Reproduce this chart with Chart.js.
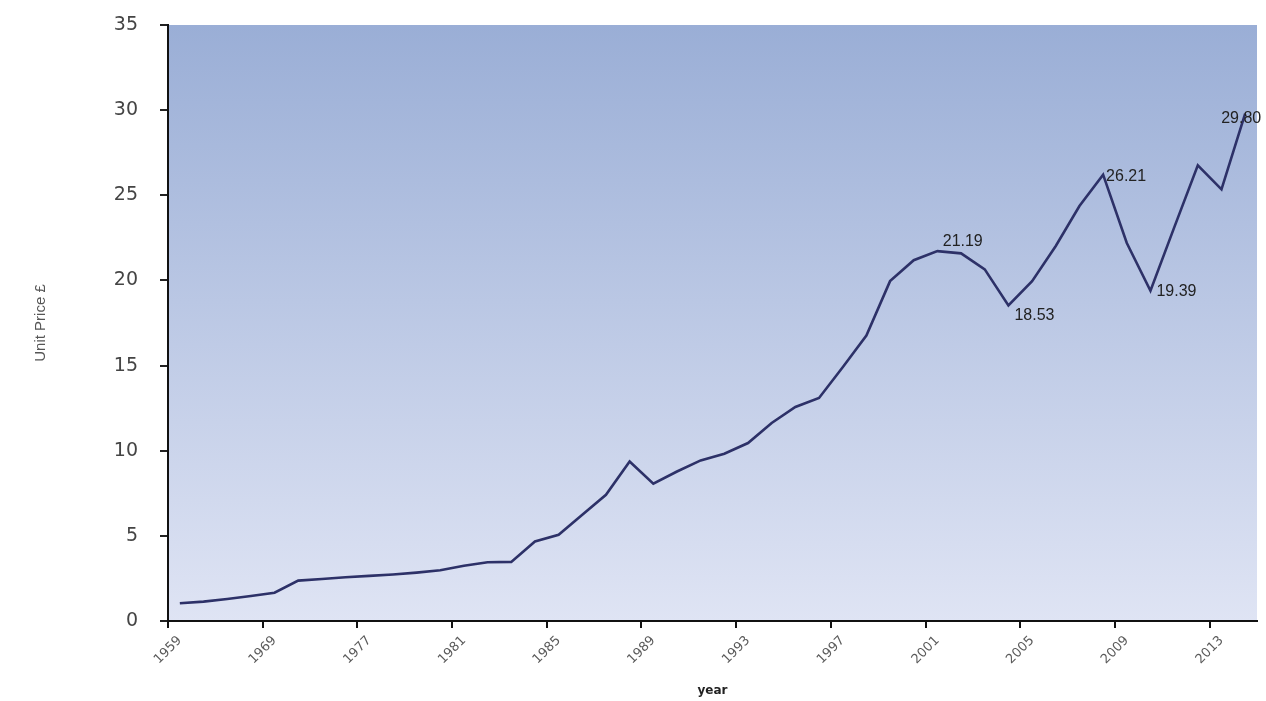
<!DOCTYPE html>
<html>
<head>
<meta charset="utf-8">
<script src="https://cdn.jsdelivr.net/npm/chart.js@4.4.1/dist/chart.umd.min.js"></script>
<style>
  html, body { margin: 0; padding: 0; background: #fff; }
  #wrap { width: 1266px; height: 701px; }
</style>
</head>
<body>
<div id="wrap"><canvas id="priceChart" width="1266" height="701"></canvas></div>
<script>
// years on the category axis (only every 4th one is labelled)
const years = ['1959', '1962', '1965', '1967', '1969', '1971', '1973', '1975',
  '1977', '1978', '1979', '1980', '1981', '1982', '1983', '1984', '1985', '1986',
  '1987', '1988', '1989', '1990', '1991', '1992', '1993', '1994', '1995', '1996',
  '1997', '1998', '1999', '2000', '2001', '2002', '2003', '2004', '2005', '2006',
  '2007', '2008', '2009', '2010', '2011', '2012', '2013', '2014'];

// unit price in pounds
const unitPrice = [1.04, 1.14, 1.29, 1.47, 1.66, 2.37, 2.47, 2.57, 2.65, 2.73,
  2.84, 2.98, 3.24, 3.45, 3.47, 4.67, 5.06, 6.24, 7.41, 9.37,
  8.06, 8.78, 9.43, 9.82, 10.45, 11.63, 12.57, 13.10, 14.90, 16.76,
  19.96, 21.19, 21.72, 21.59, 20.65, 18.53, 19.96, 22.02, 24.37, 26.21,
  22.20, 19.39, 23.10, 26.76, 25.35, 29.80];

// points that carry a value label
const labelledPoints = [31, 35, 39, 41, 45];

const yTicks = [0, 5, 10, 15, 20, 25, 30, 35];

// gradient fill behind the plot area
const plotBackground = {
  id: 'plotBackground',
  beforeDraw(chart) {
    const { ctx, chartArea: a } = chart;
    const g = ctx.createLinearGradient(0, a.top, 0, a.bottom);
    g.addColorStop(0, '#9aaed6');
    g.addColorStop(1, '#dfe4f4');
    ctx.save();
    ctx.fillStyle = g;
    ctx.fillRect(a.left, a.top, a.right - a.left, a.bottom - a.top);
    ctx.restore();
  }
};

// value labels next to a few points
const pointLabels = {
  id: 'pointLabels',
  afterDatasetsDraw(chart) {
    const ctx = chart.ctx;
    const meta = chart.getDatasetMeta(0);
    const offsets = { 31: [29, -19], 35: [6, 10], 39: [3, 2], 41: [6, 1], 45: [-24, 5] };
    ctx.save();
    ctx.font = '16px "Liberation Sans", Arial, sans-serif';
    ctx.fillStyle = '#222';
    ctx.textAlign = 'left';
    ctx.textBaseline = 'middle';
    labelledPoints.forEach(i => {
      const pt = meta.data[i];
      const off = offsets[i];
      ctx.fillText(unitPrice[i].toFixed(2), pt.x + off[0], pt.y + off[1]);
    });
    ctx.restore();
  }
};

const ctx = document.getElementById('priceChart').getContext('2d');
new Chart(ctx, {
  type: 'line',
  data: {
    labels: years,
    datasets: [{
      label: 'Unit Price',
      data: unitPrice,
      borderColor: '#2d3168',
      borderWidth: 2.6,
      pointRadius: 0,
      tension: 0,
      fill: false
    }]
  },
  options: {
    responsive: false,
    animation: false,
    layout: { padding: { left: 22, top: 25, right: 9, bottom: 0 } },
    plugins: {
      legend: { display: false },
      tooltip: { enabled: false }
    },
    scales: {
      x: {
        type: 'category',
        offset: true,
        grid: {
          offset: true,
          drawOnChartArea: false,
          drawTicks: true,
          tickLength: 7,
          lineWidth: 2,
          color: c => (c.index % 4 === 0 ? '#111' : 'rgba(0,0,0,0)')
        },
        border: { display: true, color: '#111', width: 2 },
        ticks: {
          autoSkip: false,
          minRotation: 45,
          maxRotation: 45,
          padding: 5,
          color: '#5a5a5a',
          font: { family: 'DejaVu Sans', size: 13 },
          callback: (v, i) => (i % 4 === 0 ? years[i] : '')
        },
        title: {
          display: true,
          text: 'year',
          color: '#222',
          font: { family: 'DejaVu Sans', size: 12, weight: 'bold' },
          padding: { top: 0, bottom: 3 }
        },
        afterFit: s => { s.height = 80; }
      },
      y: {
        min: 0,
        max: 35,
        afterBuildTicks: s => { s.ticks = yTicks.map(v => ({ value: v })); },
        grid: {
          drawOnChartArea: false,
          drawTicks: true,
          tickLength: 8,
          lineWidth: 2,
          color: '#222'
        },
        border: { display: true, color: '#111', width: 2 },
        ticks: {
          padding: 22,
          color: '#444',
          font: { family: 'DejaVu Sans', size: 19 }
        },
        title: {
          display: true,
          text: 'Unit Price £',
          color: '#555',
          font: { family: 'Liberation Sans', size: 15 },
          padding: { top: 10, bottom: 0 }
        },
        afterFit: s => { s.width = 146; s.paddingTop = 0; s.paddingBottom = 0; }
      }
    }
  },
  plugins: [plotBackground, pointLabels]
});
</script>
</body>
</html>
